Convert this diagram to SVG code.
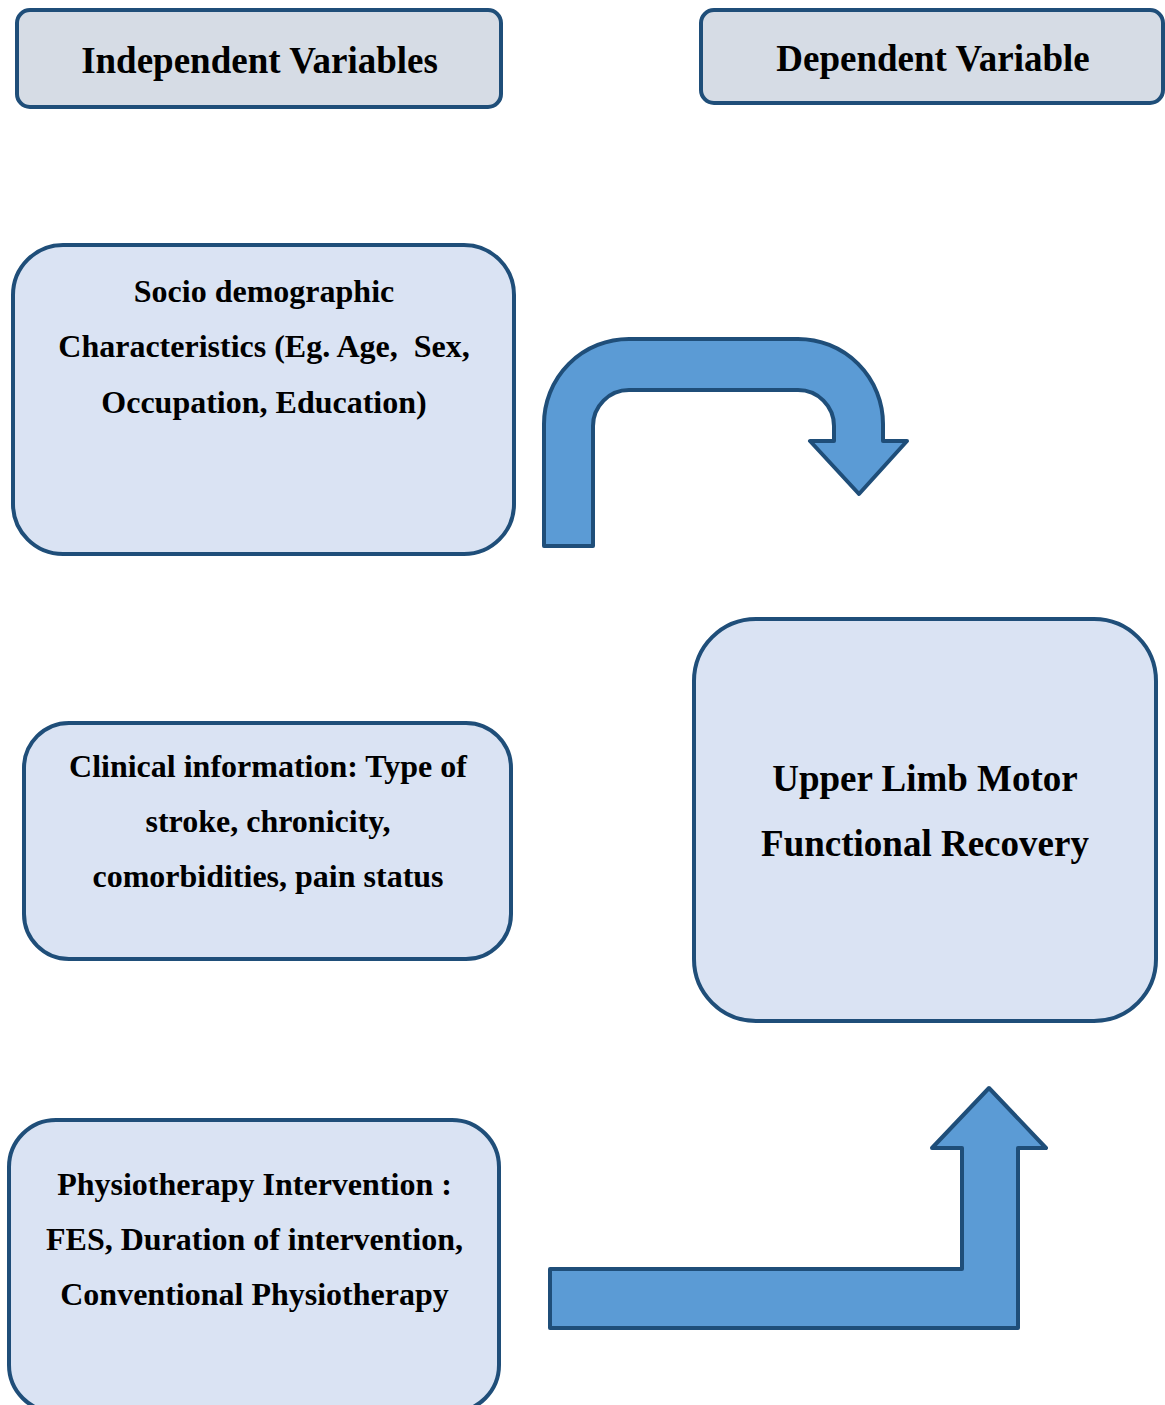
<svg xmlns="http://www.w3.org/2000/svg" width="1165" height="1405" viewBox="0 0 1165 1405">
<style>
.hdr{fill:#d6dce5;stroke:#1f4e79;stroke-width:4}
.box{fill:#dae3f3;stroke:#1f4e79;stroke-width:4}
.arrow{fill:#5b9bd5;stroke:#1f4e79;stroke-width:4;stroke-linejoin:round}
text{font-family:"Liberation Serif","Times New Roman",serif;font-weight:bold;fill:#000;text-anchor:middle;white-space:pre}
.t37{font-size:37px}
.t32{font-size:32px}
</style>
<rect width="1165" height="1405" fill="#fff"/>
<g id="independent-header">
<rect class="hdr" x="17" y="10" width="484" height="97" rx="13"/>
<text class="t37" x="259.5" y="73">Independent Variables</text>
</g>
<g id="dependent-header">
<rect class="hdr" x="701" y="10" width="462" height="93" rx="13"/>
<text class="t37" x="933" y="71">Dependent Variable</text>
</g>
<g id="socio">
<rect class="box" x="13" y="245" width="501" height="309" rx="50"/>
<text class="t32" x="264" y="302">Socio demographic</text>
<text class="t32" x="264" y="357" xml:space="preserve">Characteristics (Eg. Age,  Sex,</text>
<text class="t32" x="264" y="413">Occupation, Education)</text>
</g>
<g id="clinical">
<rect class="box" x="24" y="723" width="487" height="236" rx="45"/>
<text class="t32" x="268" y="777">Clinical information: Type of</text>
<text class="t32" x="268" y="832">stroke, chronicity,</text>
<text class="t32" x="268" y="887">comorbidities, pain status</text>
</g>
<g id="physio">
<rect class="box" x="9" y="1120" width="490" height="292" rx="47"/>
<text class="t32" x="254.5" y="1195">Physiotherapy Intervention :</text>
<text class="t32" x="254.5" y="1250">FES, Duration of intervention,</text>
<text class="t32" x="254.5" y="1305">Conventional Physiotherapy</text>
</g>
<g id="outcome">
<rect class="box" x="694" y="619" width="462" height="402" rx="62"/>
<text class="t37" x="925" y="791">Upper Limb Motor</text>
<text class="t37" x="925" y="856">Functional Recovery</text>
</g>
<g id="connectors">
<path class="arrow" d="M544 546 L544 424 A85 85 0 0 1 629 339 L798 339 A85 85 0 0 1 883 424 L883 441 L907 441 L859 494 L810 441 L834 441 L834 426 A36 36 0 0 0 798 390 L629 390 A36 36 0 0 0 593 426 L593 546 Z"/>
<path class="arrow" d="M550 1269 L962 1269 L962 1148 L932 1148 L989 1088 L1046 1148 L1018 1148 L1018 1328 L550 1328 Z"/>
</g>
</svg>
